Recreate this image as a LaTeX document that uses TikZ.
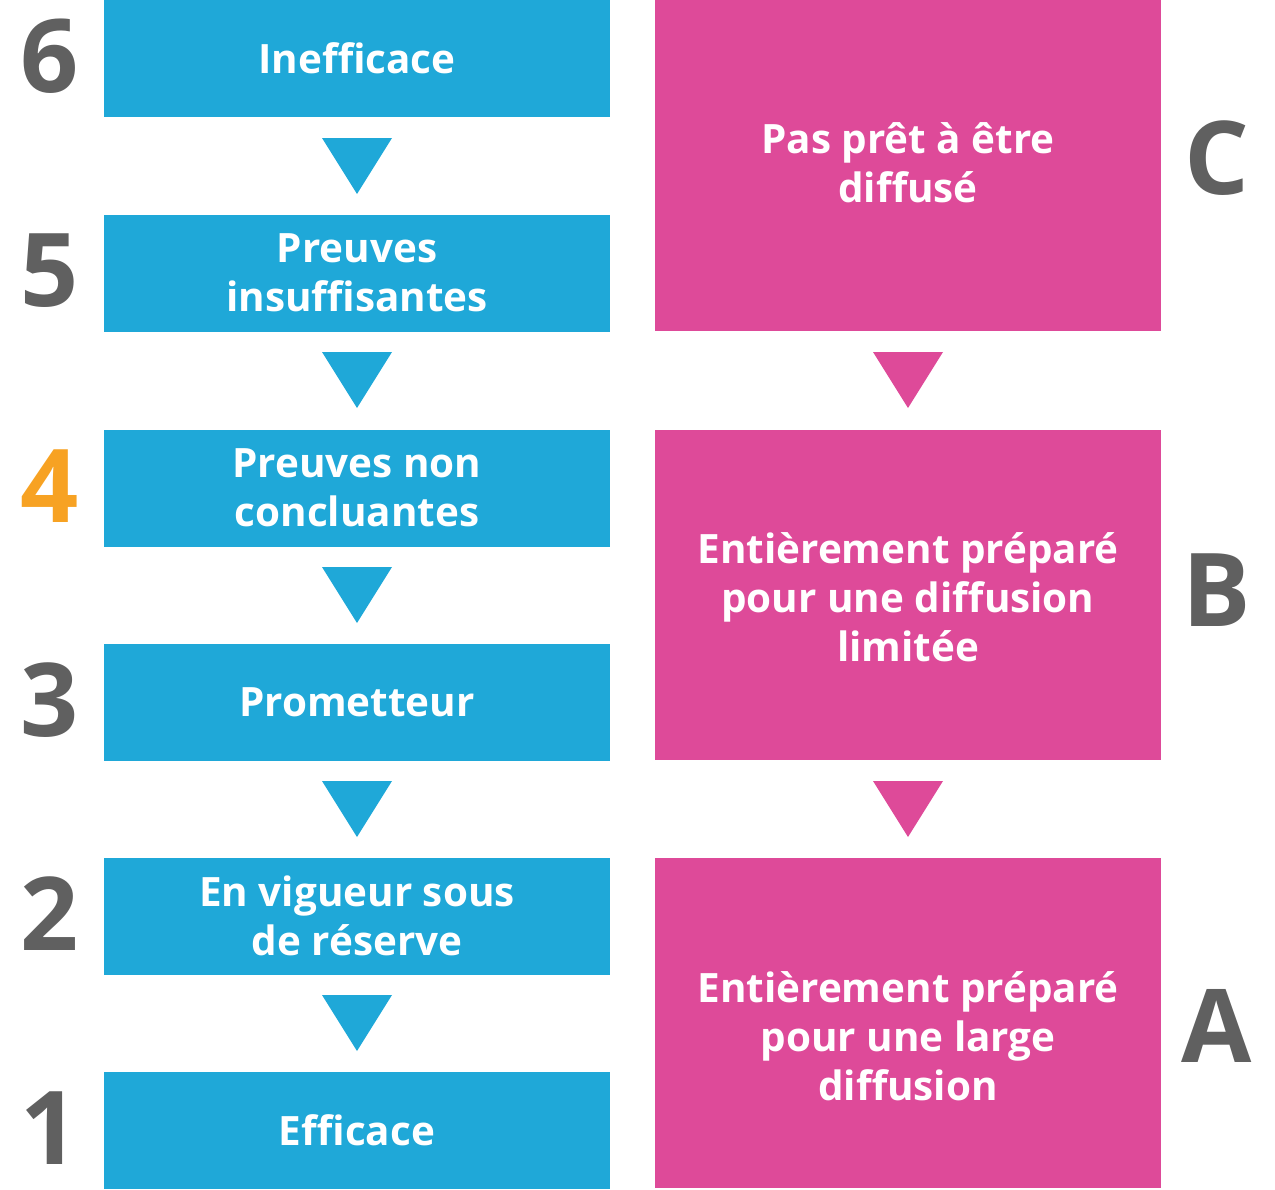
\documentclass[tikz,border=0pt]{standalone}
\usepackage{fontspec}
\setmainfont{Open Sans}
\definecolor{bl}{HTML}{1FA8D8}
\definecolor{pk}{HTML}{DE4A99}
\definecolor{gr}{HTML}{606060}
\definecolor{or}{HTML}{F7A223}
\begin{document}
\begin{tikzpicture}[x=0.02cm,y=-0.02cm,
  txt/.style={text=white,font=\fontsize{23}{28}\selectfont\bfseries,align=center},
  num/.style={text=gr,font=\fontsize{58}{60}\selectfont\bfseries,anchor=center},
  tri/.style={fill=#1}]
\useasboundingbox (0,0) rectangle (1275,1190);
\foreach \t/\n/\lab/\num/\c in {0/b6/Inefficace/6/gr,215/b5/{Preuves\\insuffisantes}/5/gr,430/b4/{Preuves non\\concluantes}/4/or,644/b3/Prometteur/3/gr,858/b2/{En vigueur sous\\de réserve}/2/gr,1072/b1/Efficace/1/gr}{
  \fill[bl] (104,\t) rectangle (610,\t+117);
  \node[txt] (\n) at (357,\t+58) {\lab};
  \node[num,text=\c] (n\n) at (50,\t+56) {\num};
}
\foreach \t in {138,352,567,781,995}{
  \fill[bl] (322,\t) -- (392,\t) -- (357,\t+56) -- cycle;
}
\foreach \t in {352,781}{
  \fill[pk] (873,\t) -- (943,\t) -- (908,\t+56) -- cycle;
}
\fill[pk] (655,0) rectangle (1161,331);
\fill[pk] (655,430) rectangle (1161,760);
\fill[pk] (655,858) rectangle (1161,1188);
\node[txt] (pc) at (908,163) {Pas prêt à être\\diffusé};
\node[txt] (pb) at (908,597) {Entièrement préparé\\pour une diffusion\\limitée};
\node[txt] (pa) at (908,1036) {Entièrement préparé\\pour une large\\diffusion};
\node[num] (lc) at (1217,158) {C};
\node[num] (lb) at (1217,590) {B};
\node[num] (la) at (1217,1026) {A};
\end{tikzpicture}
\end{document}
